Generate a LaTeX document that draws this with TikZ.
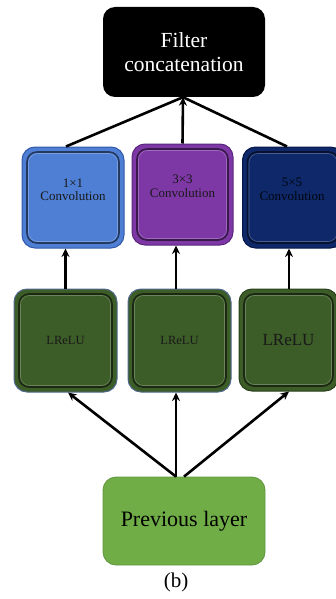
\documentclass[tikz,border=0pt]{standalone}
\usepackage{fontspec}
\setmainfont{Liberation Serif}
\usetikzlibrary{arrows.meta}
\definecolor{cblue}{RGB}{78,127,212}
\definecolor{cblueD}{RGB}{50,90,170}
\definecolor{cpurp}{RGB}{125,56,166}
\definecolor{cpurpD}{RGB}{90,38,125}
\definecolor{cnavy}{RGB}{14,40,105}
\definecolor{cnavyD}{RGB}{6,22,70}
\definecolor{cdgreen}{RGB}{60,92,40}
\definecolor{cdgreenD}{RGB}{40,66,26}
\definecolor{cedge}{RGB}{80,105,140}
\definecolor{cprev}{RGB}{112,173,71}
\definecolor{cprevD}{RGB}{95,150,60}
\tikzset{
  x=1pt, y=1pt,
  bevel/.style={rounded corners=13pt, line width=1pt, inner sep=0pt, align=center,
    path picture={
      \draw[line width=1.6pt, draw=black, opacity=0.55, rounded corners=10pt]
        ([shift={(5pt,-5pt)}]path picture bounding box.north west) rectangle
        ([shift={(-5pt,5pt)}]path picture bounding box.south east);
      \draw[line width=0.6pt, draw=white, opacity=0.25, rounded corners=9pt]
        ([shift={(6.5pt,-6.5pt)}]path picture bounding box.north west) rectangle
        ([shift={(-6.5pt,6.5pt)}]path picture bounding box.south east);
    }},
  convtxt/.style={font=\fontsize{13}{13.5}\selectfont, text=black!90, align=center, inner sep=0pt},
  arr/.style={line width=2.6pt, -{Stealth[length=8.5pt,width=8pt]}},
  seg/.style={line width=2.6pt}
}
\begin{document}
\begin{tikzpicture}
\useasboundingbox (0,0) rectangle (336,-599);
% top box
\node[fill=black, rounded corners=12pt, minimum width=162pt, minimum height=90pt,
  text=white, align=center, font=\fontsize{21.5}{24}\selectfont]
  (filt) at (184,-52) {Filter\\concatenation};
% conv boxes
\node[bevel, fill=cblue, draw=cblueD, minimum width=102pt, minimum height=101pt]
  (c1) at (73,-197.5) {};
\node[convtxt] (t1) at (73,-190) {1×1\\Convolution};
\node[bevel, fill=cpurp, draw=cpurpD, minimum width=101pt, minimum height=101pt]
  (c2) at (182.5,-194.5) {};
\node[convtxt] (t2) at (182.5,-186.5) {3×3\\Convolution};
\node[bevel, fill=cnavy, draw=cnavyD, minimum width=101pt, minimum height=101pt]
  (c3) at (293,-197.5) {};
\node[convtxt, text=black!85!cnavy] (t3) at (292,-189.5) {5×5\\Convolution};
% LReLU boxes
\node[bevel, fill=cdgreen, draw=cedge, minimum width=103pt, minimum height=103pt,
  font=\fontsize{12.5}{14}\selectfont, text=black!90]
  (r1) at (65.5,-340.5) {LReLU};
\node[bevel, fill=cdgreen, draw=cedge, minimum width=103pt, minimum height=103pt,
  font=\fontsize{12.5}{14}\selectfont, text=black!90]
  (r2) at (179.5,-340.5) {LReLU};
\node[bevel, fill=cdgreen, draw=cdgreenD, minimum width=99pt, minimum height=102pt,
  font=\fontsize{17}{19}\selectfont, text=black!90]
  (r3) at (288.5,-340) {LReLU};
% previous layer
\node[fill=cprev, draw=cprevD, line width=0.8pt, rounded corners=13pt,
  minimum width=162pt, minimum height=88pt, font=\fontsize{22}{24}\selectfont]
  (prev) at (184,-521) {Previous layer};
\node[font=\fontsize{21}{23}\selectfont] (cap) at (176,-582) {(b)};
% connectors to filter
\coordinate (fin) at ([xshift=-1pt]filt.south);
\draw[seg] ([xshift=-7pt]c1.north) -- (fin);
\draw[seg] ([xshift=-6pt]c3.north) -- (fin);
\draw[arr] (c2.north) -- (fin);
% LReLU to conv
\draw[arr] (r1.north) -- (r1.north |- c1.south);
\draw[arr] ([xshift=-3.5pt]r2.north) -- ([xshift=-3.5pt]r2.north |- c2.south);
\draw[arr] ([xshift=0.5pt]r3.north) -- ([xshift=0.5pt]r3.north |- c3.south);
% prev to LReLU
\coordinate (ap) at ([xshift=-8pt]prev.north);
\draw[arr] (ap) -- ([xshift=2.5pt]r1.south);
\draw[arr] (ap) -- ([xshift=-3.5pt]r2.south);
\draw[arr] ([xshift=0pt]prev.north) -- ([xshift=0.5pt]r3.south);
\end{tikzpicture}
\end{document}
